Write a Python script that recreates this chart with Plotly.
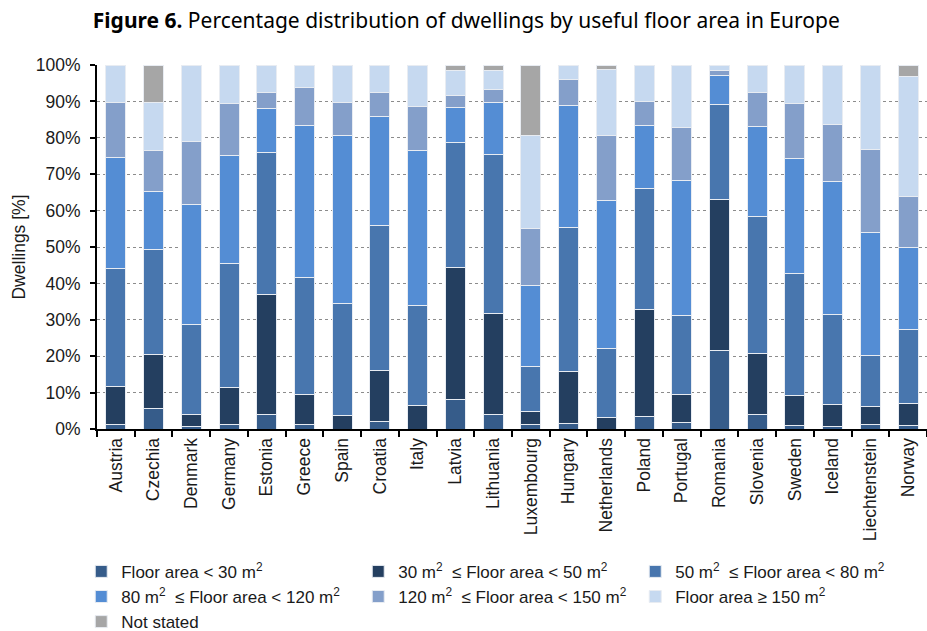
import plotly.graph_objects as go

countries = ["Austria", "Czechia", "Denmark", "Germany", "Estonia", "Greece", "Spain",
             "Croatia", "Italy", "Latvia", "Lithuania", "Luxembourg", "Hungary",
             "Netherlands", "Poland", "Portugal", "Romania", "Slovenia", "Sweden",
             "Iceland", "Liechtenstein", "Norway"]

lt30 = [1.2, 5.7, 0.6, 1.3, 3.9, 1.2, 0, 2.0, 0, 8.1, 4.1, 1.2, 1.6, 0, 3.5, 1.7, 21.5, 3.9, 0.9, 0.6, 1.2, 1.1]
a30_50 = [10.5, 14.7, 3.5, 10.0, 33.0, 8.2, 3.7, 14.2, 6.4, 36.3, 27.6, 3.6, 14.1, 3.2, 29.3, 7.8, 41.6, 16.9, 8.3, 6.0, 4.9, 6.0]
a50_80 = [32.5, 28.8, 24.5, 34.1, 39.1, 32.3, 30.7, 39.8, 27.5, 34.2, 43.7, 12.4, 39.6, 19.0, 33.2, 21.7, 26.1, 37.5, 33.6, 24.8, 14.0, 20.2]
a80_120 = [30.4, 16.1, 33.1, 29.8, 12.1, 41.7, 46.1, 29.8, 42.5, 9.7, 14.3, 22.1, 33.5, 40.5, 17.4, 37.1, 8.0, 24.8, 31.6, 36.5, 33.8, 22.7]
a120_150 = [15.0, 11.2, 17.4, 14.2, 4.4, 10.5, 9.3, 6.7, 12.1, 3.4, 3.7, 15.7, 7.2, 17.9, 6.7, 14.5, 1.3, 9.4, 14.9, 15.8, 23.0, 13.9]
ge150 = [10.4, 13.1, 20.9, 10.6, 7.5, 6.1, 10.2, 7.5, 11.5, 6.8, 5.1, 25.7, 4.0, 18.1, 9.9, 17.2, 1.5, 7.5, 10.7, 16.3, 23.1, 33.0]
not_stated = [0, 10.4, 0, 0, 0, 0, 0, 0, 0, 1.5, 1.5, 19.3, 0, 1.3, 0, 0, 0, 0, 0, 0, 0, 3.1]

series_names = [
    "Floor area < 30 m<sup>2</sup>",
    "30 m<sup>2</sup>  ≤ Floor area < 50 m<sup>2</sup>",
    "50 m<sup>2</sup>  ≤ Floor area < 80 m<sup>2</sup>",
    "80 m<sup>2</sup>  ≤ Floor area < 120 m<sup>2</sup>",
    "120 m<sup>2</sup>  ≤ Floor area < 150 m<sup>2</sup>",
    "Floor area ≥ 150 m<sup>2</sup>",
    "Not stated",
]
series_values = [lt30, a30_50, a50_80, a80_120, a120_150, ge150, not_stated]
series_colors = ["#365C8A", "#243F60", "#4876AE", "#548DD4", "#849FCA", "#C6D9F0", "#A6A6A6"]

y_tick_values = [0, 10, 20, 30, 40, 50, 60, 70, 80, 90, 100]
y_tick_labels = [f"{v}%" for v in y_tick_values]

FONT = "Liberation Sans, Arial, sans-serif"

fig = go.Figure()
for name, vals, col in zip(series_names, series_values, series_colors):
    fig.add_trace(go.Bar(
        x=countries, y=vals, name=name,
        marker=dict(color=col, line=dict(color="#E8ECF2", width=1)),
        hoverinfo="skip",
    ))

fig.update_layout(
    template="none",
    barmode="stack",
    bargap=0.47,
    width=927, height=631,
    paper_bgcolor="white", plot_bgcolor="white",
    margin=dict(l=97, r=0, t=65, b=202, autoexpand=False),
    font=dict(family=FONT, size=17.5, color="#1a1a1a"),
    title=dict(
        text="<b>Figure 6.</b> Percentage distribution of dwellings by useful floor area in Europe",
        font=dict(family="Noto Sans, sans-serif", size=21, color="black"),
        x=0.503, xref="container", xanchor="center",
        y=0.968, yref="container", yanchor="middle",
    ),
    legend=dict(
        orientation="h",
        x=-0.019, xanchor="left",
        y=-0.343, yanchor="top",
        entrywidth=232, entrywidthmode="pixels",
        traceorder="normal",
        font=dict(family=FONT, size=17, color="#1a1a1a"),
        bgcolor="rgba(0,0,0,0)",
        tracegroupgap=0,
    ),
    showlegend=True,
)

fig.update_yaxes(
    range=[0, 100],
    tickmode="array",
    tickvals=y_tick_values,
    ticktext=y_tick_labels,
    showgrid=True, gridcolor="#8c8c8c", gridwidth=1, griddash="dot",
    showline=True, linecolor="black", linewidth=2,
    ticks="outside", ticklen=5, tickwidth=2, tickcolor="black",
    ticklabelstandoff=6,
    zeroline=False,
    title=dict(text="Dwellings [%]", font=dict(family=FONT, size=17.5), standoff=6),
    tickfont=dict(family=FONT, size=17.5, color="#1a1a1a"),
)
fig.update_xaxes(
    type="category",
    tickangle=-90,
    showline=True, linecolor="black", linewidth=2,
    ticks="outside", ticklen=6, tickwidth=2, tickcolor="black",
    tickson="boundaries",
    showgrid=False,
    tickfont=dict(family=FONT, size=17.5, color="#1a1a1a"),
)

fig.write_html(
    "out.html",
    config={"displayModeBar": False},
    post_script="document.body.style.margin='0';document.body.style.overflow='hidden';",
)
